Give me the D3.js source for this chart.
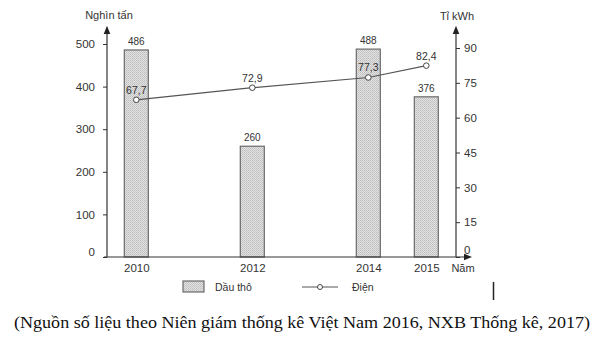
<!DOCTYPE html>
<html>
<head>
<meta charset="utf-8">
<script src="https://cdn.jsdelivr.net/npm/d3@7"></script>
<style>
  html, body { margin: 0; padding: 0; background: #fff; }
  svg { display: block; }
  .lbl { font-family: "Liberation Sans", Arial, sans-serif; font-size: 11px; fill: #333; }
</style>
</head>
<body>
<svg id="chart" width="600" height="349"></svg>
<script>
// Sản lượng dầu thô (nghìn tấn) và điện (tỉ kWh)
const years = [2010, 2012, 2014, 2015];
const crudeOil = [486, 260, 488, 376];
const electricity = [67.7, 72.9, 77.3, 82.4];
const leftTicks = [0, 100, 200, 300, 400, 500];
const rightTicks = [0, 15, 30, 45, 60, 75, 90];
const fmt = v => String(v).replace(".", ",");

const svg = d3.select("#chart");
const baseY = 257;

const x = d3.scaleLinear().domain([2010, 2015]).range([136.3, 426.3]);
const yL = d3.scaleLinear().domain([0, 500]).range([baseY, 44]);
const yR = d3.scaleLinear().domain([0, 90]).range([baseY, 48]);

// hatch pattern for the bars
const defs = svg.append("defs");
const pat = defs.append("pattern").attr("id", "dots")
  .attr("width", 2).attr("height", 2).attr("patternUnits", "userSpaceOnUse");
pat.append("rect").attr("width", 2).attr("height", 2).attr("fill", "#e2e2e2");
pat.append("rect").attr("width", 1).attr("height", 1).attr("fill", "#bdbdbd");
pat.append("rect").attr("x", 1).attr("y", 1).attr("width", 1).attr("height", 1).attr("fill", "#c8c8c8");

defs.append("marker").attr("id", "arrow")
  .attr("viewBox", "0 0 10 10").attr("refX", 5).attr("refY", 5)
  .attr("markerWidth", 7).attr("markerHeight", 7).attr("orient", "auto")
  .append("path").attr("d", "M0,1 L10,5 L0,9 Z").attr("fill", "#222");

// bars
const barW = 24;
svg.selectAll("rect.bar").data(years).enter().append("rect")
  .attr("class", "bar")
  .attr("x", (d) => x(d) - barW / 2)
  .attr("y", (d, i) => yL(crudeOil[i]))
  .attr("width", barW)
  .attr("height", (d, i) => baseY - yL(crudeOil[i]))
  .attr("fill", "url(#dots)")
  .attr("stroke", "#6a6a6a").attr("stroke-width", 1.2);

svg.selectAll("text.barval").data(years).enter().append("text")
  .attr("class", "lbl")
  .attr("x", d => x(d))
  .attr("y", (d, i) => yL(crudeOil[i]) - 5)
  .attr("text-anchor", "middle")
  .style("font-size", "10px")
  .text((d, i) => crudeOil[i]);

// left axis
const gL = svg.append("g").attr("transform", "translate(107,0)")
  .call(d3.axisLeft(yL).tickValues(leftTicks).tickSize(4).tickPadding(8));
gL.select(".domain").remove();
gL.selectAll(".tick line").attr("stroke", "#333");
gL.selectAll(".tick text").attr("class", "lbl").attr("fill", null)
  .style("font-size", "11.5px")
  .attr("dy", d => d === 0 ? "-0.1em" : "0.32em");
svg.append("line").attr("x1", 107).attr("x2", 107).attr("y1", baseY).attr("y2", 30)
  .attr("stroke", "#333").attr("stroke-width", 1.2).attr("marker-end", "url(#arrow)");

// right axis
const gR = svg.append("g").attr("transform", "translate(456,0)")
  .call(d3.axisRight(yR).tickValues(rightTicks).tickSize(4).tickPadding(4));
gR.select(".domain").remove();
gR.selectAll(".tick line").attr("stroke", "#333");
gR.selectAll(".tick text").attr("class", "lbl").attr("fill", null)
  .style("font-size", "11.5px")
  .attr("dy", d => d === 0 ? "-0.3em" : "0.32em");
svg.append("line").attr("x1", 456).attr("x2", 456).attr("y1", baseY).attr("y2", 30)
  .attr("stroke", "#333").attr("stroke-width", 1.2).attr("marker-end", "url(#arrow)");

// x axis
const gX = svg.append("g").attr("transform", `translate(0,${baseY})`)
  .call(d3.axisBottom(x).tickValues(years).tickFormat(d3.format("d")).tickSize(0).tickPadding(7));
gX.select(".domain").remove();
gX.selectAll(".tick text").attr("class", "lbl").attr("fill", null).style("font-size", "11.5px");
svg.append("line").attr("x1", 104).attr("x2", 468).attr("y1", baseY).attr("y2", baseY)
  .attr("stroke", "#333").attr("stroke-width", 1.2).attr("marker-end", "url(#arrow)");

// electricity line
const line = d3.line().x(d => x(d[0])).y(d => yR(d[1]));
const pts = years.map((y, i) => [y, electricity[i]]);
svg.append("path").datum(pts).attr("d", line)
  .attr("fill", "none").attr("stroke", "#555").attr("stroke-width", 1.2);
svg.selectAll("circle.pt").data(pts).enter().append("circle")
  .attr("cx", d => x(d[0])).attr("cy", d => yR(d[1])).attr("r", 2.8)
  .attr("fill", "#fff").attr("stroke", "#444").attr("stroke-width", 1);
svg.selectAll("text.ptval").data(pts).enter().append("text")
  .attr("class", "lbl")
  .attr("x", d => x(d[0]))
  .attr("y", d => yR(d[1]) - 6)
  .attr("text-anchor", "middle")
  .style("font-size", "10.5px")
  .text(d => fmt(d[1]));

// axis titles
svg.append("text").attr("class", "lbl").attr("x", 109).attr("y", 19)
  .attr("text-anchor", "middle").style("font-size", "11px").text("Nghìn tấn");
svg.append("text").attr("class", "lbl").attr("x", 457).attr("y", 20)
  .attr("text-anchor", "middle").style("font-size", "11px").text("Tỉ kWh");
svg.append("text").attr("class", "lbl").attr("x", 463).attr("y", 272)
  .attr("text-anchor", "middle").style("font-size", "11px").text("Năm");

// legend
svg.append("rect").attr("x", 183).attr("y", 281).attr("width", 21).attr("height", 11)
  .attr("fill", "url(#dots)").attr("stroke", "#6a6a6a").attr("stroke-width", 1.2);
svg.append("text").attr("class", "lbl").attr("x", 215).attr("y", 290.5)
  .style("font-size", "10.5px").text("Dầu thô");
svg.append("line").attr("x1", 302).attr("x2", 338).attr("y1", 287).attr("y2", 287)
  .attr("stroke", "#555").attr("stroke-width", 1.2);
svg.append("circle").attr("cx", 320).attr("cy", 287).attr("r", 2.5)
  .attr("fill", "#fff").attr("stroke", "#444");
svg.append("text").attr("class", "lbl").attr("x", 352).attr("y", 290.5)
  .style("font-size", "10.5px").text("Điện");

// cursor mark
svg.append("line").attr("x1", 493.5).attr("x2", 493.5).attr("y1", 282).attr("y2", 300)
  .attr("stroke", "#222").attr("stroke-width", 1.5);

// source note
svg.append("text").attr("x", 302).attr("y", 328)
  .attr("text-anchor", "middle")
  .style("font-family", "'Liberation Serif', 'Times New Roman', serif")
  .style("font-size", "16px").attr("fill", "#111")
  .attr("textLength", 576).attr("lengthAdjust", "spacingAndGlyphs")
  .text("(Nguồn số liệu theo Niên giám thống kê Việt Nam 2016, NXB Thống kê, 2017)");
</script>
</body>
</html>
